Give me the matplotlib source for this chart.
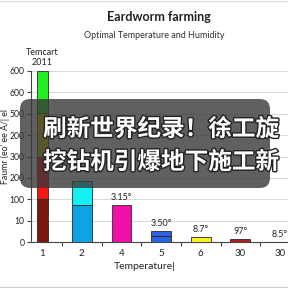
import matplotlib
matplotlib.use("Agg")
import matplotlib.pyplot as plt
import matplotlib.patheffects as pe
from matplotlib.patches import FancyBboxPatch
from matplotlib.lines import Line2D

plt.rcParams["font.family"] = ["Lato", "DejaVu Sans"]

# categories along the x axis
categories = ["1", "2", "4", "5", "6", "30", "30"]

# y tick labels as printed on the chart (evenly spaced)
ytick_labels = ["0", "10", "100", "200", "300", "200", "500", "600", "600"]

# stacked bar for category "1" (in tick-step units)
bar1_segments = [2.0, 2.0, 2.05, 1.95]
bar1_colors = ["#7a1810", "#ff1212", "#ded000", "#22ee22"]

# stacked bar for category "2"
bar2_segments = [1.73, 1.12]
bar2_colors = ["#0ea2e2", "#12f0f2"]

# single bars for the other categories
other_values = [1.73, 0.51, 0.23, 0.14, 0.0]
other_colors = ["#f010a8", "#2a62ea", "#f4f020", "#b41c22", "#ffffff"]
other_labels = ["3.15°", "3.50°", "8.7°", "97°", "8.5°"]
bar5_split = 0.28

fig = plt.figure(figsize=(2.88, 2.88), dpi=100)
ax = fig.add_axes([31 / 288, 46 / 288, 257 / 288, 171 / 288])

edge = "#2a2a2a"

# bar for "1"
bottom = 0
for h, c in zip(bar1_segments, bar1_colors):
    ax.bar(0, h, width=0.28, bottom=bottom, color=c, edgecolor=edge, linewidth=0.6, zorder=3)
    bottom += h

# bar for "2"
bottom = 0
for h, c in zip(bar2_segments, bar2_colors):
    ax.bar(1, h, width=0.5, bottom=bottom, color=c, edgecolor=edge, linewidth=0.6, zorder=3)
    bottom += h

# remaining bars
for i, (v, c, lab) in enumerate(zip(other_values, other_colors, other_labels)):
    x = i + 2
    if v > 0:
        ax.bar(x, v, width=0.5, color=c, edgecolor=edge, linewidth=0.6, zorder=3)
    ax.annotate(lab, (x, v), xytext=(0, 2.5), textcoords="offset points",
                ha="center", va="bottom", fontsize=6.5, color="#222222")

# line inside the "5" bar
ax.plot([3 - 0.25, 3 + 0.25], [bar5_split, bar5_split], color=edge, lw=0.8, zorder=4)

ax.annotate("Temcart\n2011", (0, sum(bar1_segments)), xytext=(0, 3), textcoords="offset points",
            ha="center", va="bottom", fontsize=6.5, color="#222222", linespacing=1.1)

ax.set_xlim(-0.28, 6.2)
ax.set_ylim(0, 8)
ax.set_yticks(range(len(ytick_labels)))
ax.set_yticklabels(ytick_labels, fontsize=6.2, color="#222222")
ax.set_xticks(range(len(categories)))
ax.set_xticklabels(categories, fontsize=7, color="#222222")
ax.tick_params(axis="x", length=0, pad=5)
ax.set_xticks([i + 0.5 for i in range(len(categories) - 1)], minor=True)
ax.tick_params(axis="x", which="minor", length=3, color="#444444", width=0.8)
ax.tick_params(axis="y", length=3, color="#444444", width=0.8, pad=1.5)
ax.grid(axis="y", color="#d8d8d8", lw=0.7, zorder=0)

for s in ["top", "right"]:
    ax.spines[s].set_visible(False)
ax.spines["left"].set_color("#444444")
ax.spines["bottom"].set_color("#444444")

ax.set_xlabel("Temperature|", fontsize=7.5, color="#222222", x=0.444, labelpad=3)
fig.text(5 / 288, 1 - 147 / 288, "Faumr (eo' ee A/| el", rotation=90, ha="center", va="center",
         fontsize=6.3, color="#222222")

fig.text(159 / 288, 1 - 17 / 288, "Eardworm farming", ha="center", va="center",
         fontsize=9, fontweight="bold", color="#222222")
fig.text(154 / 288, 1 - 35 / 288, "Optimal Temperature and Humidity", ha="center", va="center",
         fontsize=6.5, color="#333333")

# dark overlay banner with Chinese caption
box = FancyBboxPatch((20 / 288, 1 - 188 / 288), 250 / 288, 89 / 288,
                     boxstyle="round,pad=0,rounding_size=0.035",
                     transform=fig.transFigure, facecolor="#383838", alpha=0.8,
                     edgecolor="none", zorder=10)
fig.patches.append(box)
for txt, yy in [("刷新世界纪录！徐工旋", 129), ("挖钻机引爆地下施工新", 162)]:
    fig.text(43 / 288, 1 - yy / 288, txt, ha="left", va="center", fontsize=17,
             fontweight="bold", color="white", family=["Noto Sans CJK SC", "DejaVu Sans"],
             zorder=11, path_effects=[pe.withStroke(linewidth=2, foreground="#222222")])

# faint frame lines at top and bottom
fig.add_artist(Line2D([0, 1], [0.002, 0.002], transform=fig.transFigure, color="#d0d0d0", lw=1))
fig.add_artist(Line2D([0, 1], [0.998, 0.998], transform=fig.transFigure, color="#e0e0e0", lw=1))

fig.savefig("out.png", dpi=100)
